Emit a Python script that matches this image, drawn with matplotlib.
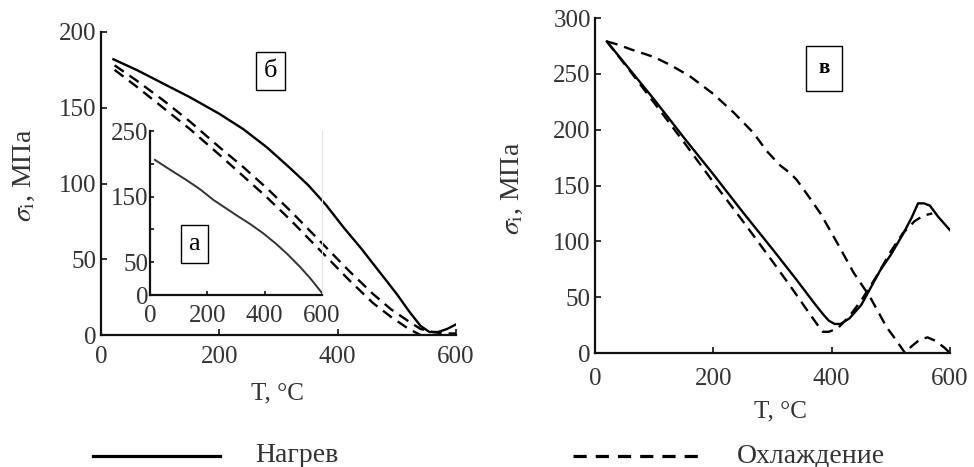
import matplotlib
matplotlib.use("Agg")
import matplotlib.pyplot as plt
from matplotlib.lines import Line2D

plt.rcParams["font.family"] = ["Liberation Serif", "DejaVu Serif"]
plt.rcParams["mathtext.fontset"] = "stix"
plt.rcParams["font.size"] = 18
plt.rcParams["lines.scale_dashes"] = False

# panel б : heating and two cooling runs
t_heat_b = [21, 60, 105, 150, 200, 240, 280, 320, 350, 380, 410, 440, 470, 500,
            520, 540, 555, 570, 585, 600]
s_heat_b = [182, 175, 166, 157, 146, 136, 124, 110, 99, 86, 71, 57, 42, 27,
            16, 6, 2, 2, 4, 7]
t_cool1_b = [23, 60, 105, 150, 200, 240, 280, 320, 370, 420, 460, 490, 520, 540,
             560, 580, 600]
s_cool1_b = [178, 168, 155, 141, 124, 111, 97, 82, 62, 42, 27, 17, 9, 4, 2, 1, 1]
t_cool2_b = [23, 60, 105, 150, 200, 240, 280, 320, 370, 420, 460, 490, 520, 540]
s_cool2_b = [175, 164, 150, 136, 119, 105, 91, 76, 56, 36, 21, 12, 4, 0]

# inset а : heating only
t_heat_a = [17, 70, 128, 175, 221, 300, 350, 395, 440, 480, 523, 560, 600]
s_heat_a = [206, 191, 175, 161, 145, 122, 108, 94, 78, 62, 43, 25, 3]

# panel в
t_heat_v = [20, 60, 100, 150, 200, 250, 300, 340, 370, 385, 395, 405, 415, 430,
            450, 482, 500, 520, 535, 546, 556, 566, 580, 590, 600]
s_heat_v = [279, 253, 227, 193, 160, 126, 93, 66, 45, 35, 29, 26, 26, 31,
            43, 74, 88, 106, 121, 134, 134, 132, 122, 116, 110]
t_cool1_v = [20, 60, 100, 150, 200, 250, 300, 330, 355, 375, 385, 395, 410, 430,
             450, 475, 500, 520, 540, 555, 570]
s_cool1_v = [279, 252, 224, 189, 153, 118, 82, 60, 41, 26, 19, 19, 22, 33,
             47, 68, 91, 107, 118, 123, 125]
t_cool2_v = [20, 40, 60, 100, 127, 160, 200, 235, 268, 290, 313, 330, 341, 360,
             381, 410, 437, 465, 493, 507, 524, 535, 549, 562, 575, 590, 600]
s_cool2_v = [279, 276, 272, 265, 258, 248, 232, 215, 197, 181, 168, 161, 155, 141,
             125, 98, 72, 50, 23, 13, 0, 6, 12, 14, 11, 5, 0]

xticks = [0, 200, 400, 600]
ylabel = r"$\sigma_{\mathrm{i}}$, МПа"
xlabel = "T, °C"
legend_names = ["Нагрев", "Охлаждение"]

txt = "#333333"
dash = (0, (8, 5))

W, H = 974, 467
fig = plt.figure(figsize=(W/100, H/100), dpi=100)

def axes_px(x0, y0, x1, y1):
    return fig.add_axes([x0/W, 1 - y1/H, (x1 - x0)/W, (y1 - y0)/H])

def style(ax, xpad):
    for s in ["top", "right"]:
        ax.spines[s].set_visible(False)
    for s in ["left", "bottom"]:
        ax.spines[s].set_linewidth(1.6)
        ax.spines[s].set_color("#111111")
    ax.tick_params(direction="in", length=4, width=1.2, colors="#111111", labelcolor=txt)
    ax.tick_params(axis="x", pad=xpad)
    ax.tick_params(axis="y", pad=3)
    ax.patch.set_alpha(0)

# ---- б
ax1 = axes_px(101, 32, 456, 335)
style(ax1, 8)
ax1.plot(t_heat_b, s_heat_b, color="black", lw=1.7)
ax1.plot(t_cool1_b, s_cool1_b, color="black", lw=1.7, ls=dash)
ax1.plot(t_cool2_b, s_cool2_b, color="black", lw=1.7, ls=dash)
ax1.set_xlim(0, 600)
ax1.set_ylim(0, 200)
ax1.set_xticks(xticks)
ax1.set_yticks([0, 50, 100, 150, 200])
ax1.set_xlabel(xlabel, color=txt)
ax1.set_ylabel(ylabel, color=txt, fontsize=20)
ax1.xaxis.set_label_coords(0.496, -0.158)
ax1.yaxis.set_label_coords(-0.18, 0.525)
ax1.text(287, 174, "б", ha="center", va="center", fontsize=19, color="black",
         bbox=dict(boxstyle="square,pad=0.3", fc="white", ec="black", lw=1))

# ---- а (inset)
ax0 = axes_px(150, 131, 322, 295)
style(ax0, 7)
ax0.spines["right"].set_visible(True)
ax0.spines["right"].set_color("#e4e4e4")
ax0.spines["right"].set_linewidth(0.8)
ax0.tick_params(axis="y", pad=1, length=3)
ax0.tick_params(axis="x", length=3)
ax0.plot(t_heat_a, s_heat_a, color="#333333", lw=1.4)
ax0.set_xlim(0, 600)
ax0.set_ylim(0, 250)
ax0.set_xticks(xticks)
ax0.set_yticks([0, 50, 100, 150, 200, 250])
ax0.set_yticklabels(["0", "50", "", "150", "", "250"])
ax0.text(155, 78, "а", ha="center", va="center", fontsize=19, color="black",
         bbox=dict(boxstyle="square,pad=0.3", fc="white", ec="black", lw=1))

# ---- в
ax2 = axes_px(595, 18, 950, 353)
style(ax2, 11)
ax2.plot(t_heat_v, s_heat_v, color="black", lw=1.7)
ax2.plot(t_cool1_v, s_cool1_v, color="black", lw=1.7, ls=dash)
ax2.plot(t_cool2_v, s_cool2_v, color="black", lw=1.7, ls=dash)
ax2.set_xlim(0, 600)
ax2.set_ylim(0, 300)
ax2.set_xticks(xticks)
ax2.set_yticks([0, 50, 100, 150, 200, 250, 300])
ax2.set_xlabel(xlabel, color=txt)
ax2.set_ylabel(ylabel, color=txt, fontsize=20)
ax2.xaxis.set_label_coords(0.521, -0.143)
ax2.yaxis.set_label_coords(-0.198, 0.4925)
ax2.text(387, 255, "в", ha="center", va="center", fontsize=15, fontweight="bold",
         color="black",
         bbox=dict(boxstyle="square,pad=0.6", fc="white", ec="black", lw=1))

# legend row along the bottom
ly = 1 - 456/H
fig.add_artist(Line2D([93/W, 220/W], [ly, ly], color="black", lw=2.3,
                      transform=fig.transFigure))
fig.text(297/W, ly, legend_names[0], ha="center", va="center", color=txt, fontsize=20)
fig.add_artist(Line2D([573/W, 702/W], [ly, ly], color="black", lw=2.3,
                      ls=(0, (9.5, 6.5)), transform=fig.transFigure))
fig.text(811/W, ly, legend_names[1], ha="center", va="center", color=txt, fontsize=20)

fig.savefig("out.png", dpi=100)
